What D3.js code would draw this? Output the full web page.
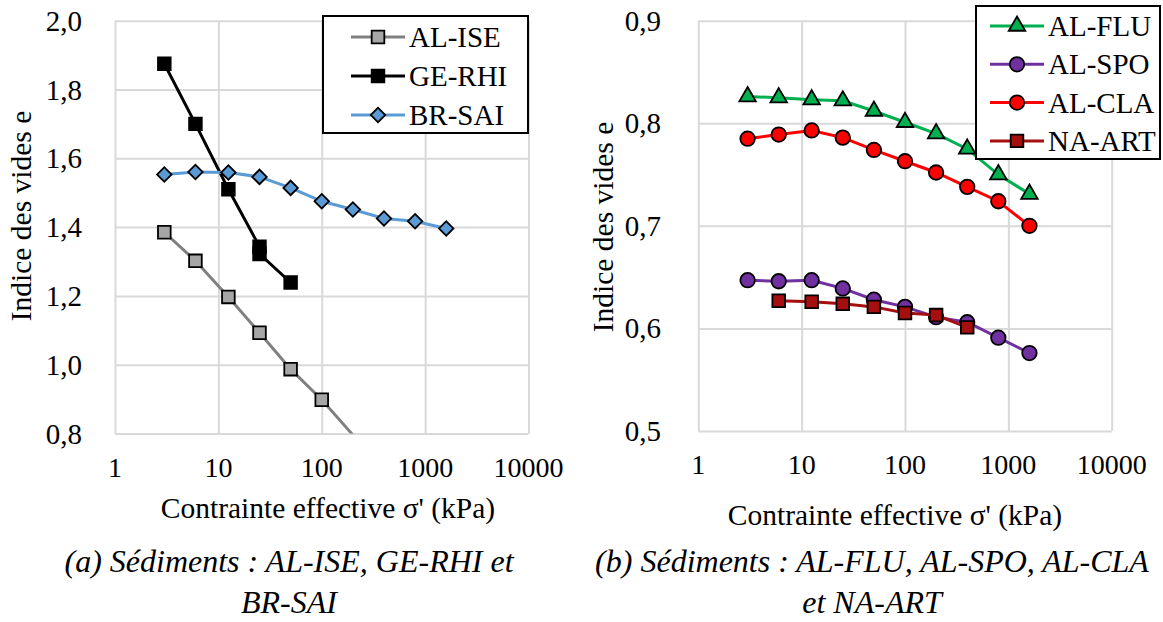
<!DOCTYPE html>
<html>
<head>
<meta charset="utf-8">
<script src="https://cdn.jsdelivr.net/npm/d3@7/dist/d3.min.js"></script>
<style>
    body { margin: 0; background: #ffffff; }
    .grid line { stroke: #d9d9d9; stroke-width: 2; }
    .grid path { display: none; }
</style>
</head>
<body>
<div id="chart"></div>
<script>
"use strict";

// pressions appliquées (kPa)
var pressures = [3, 6, 12.5, 25, 50, 100, 200, 400, 800, 1600];
var xTicks = [1, 10, 100, 1000, 10000];

// (a) sédiments AL-ISE, GE-RHI, BR-SAI
var alIseX = [3, 6, 12.5, 25, 50, 100, 200];
var alIseY = [1.385, 1.302, 1.197, 1.093, 0.987, 0.898, 0.796];
var geRhiX = [3, 6, 12.5, 25, 25, 50];
var geRhiY = [1.875, 1.700, 1.510, 1.343, 1.322, 1.239];
var brSaiY = [1.553, 1.560, 1.559, 1.546, 1.514, 1.475, 1.451, 1.425, 1.417, 1.396];
var leftYTicks = [0.8, 1.0, 1.2, 1.4, 1.6, 1.8, 2.0];

// (b) sédiments AL-FLU, AL-SPO, AL-CLA, NA-ART
var alFluY = [0.826, 0.825, 0.823, 0.822, 0.812, 0.801, 0.790, 0.775, 0.750, 0.731];
var alSpoY = [0.647, 0.646, 0.647, 0.639, 0.628, 0.621, 0.611, 0.606, 0.591, 0.576];
var alClaY = [0.785, 0.789, 0.793, 0.786, 0.774, 0.763, 0.752, 0.738, 0.724, 0.700];
var naArtX = [6, 12.5, 25, 50, 100, 200, 400];
var naArtY = [0.627, 0.626, 0.624, 0.621, 0.615, 0.613, 0.601];
var rightYTicks = [0.5, 0.6, 0.7, 0.8, 0.9];

var FONT = "Liberation Serif";

function zip(xs, ys) {
    return xs.map(function(x, i) { return { x: x, y: ys[i] }; });
}

var svg = d3.select("#chart")
    .append("svg")
    .attr("width", 1163)
    .attr("height", 622);

var commaFormat = function(d) { return d3.format(".1f")(d).replace(".", ","); };

function markerPath(type) {
    if (type === "square") return d3.symbol().type(d3.symbolSquare).size(160)();
    if (type === "diamond") return d3.symbol().type(d3.symbolSquare).size(105)();
    if (type === "triangle") return d3.symbol().type(d3.symbolTriangle).size(118)();
    return d3.symbol().type(d3.symbolCircle).size(165)();
}

function drawMarker(g, type, fill, x, y) {
    g.append("path")
        .attr("d", markerPath(type))
        .attr("transform", "translate(" + x + "," + y + ")" + (type === "diamond" ? " rotate(45)" : ""))
        .attr("fill", fill)
        .attr("stroke", "#000000")
        .attr("stroke-width", 1.8);
}

function addText(g, size) {
    return g.append("text")
        .attr("font-family", FONT)
        .attr("font-size", size + "px")
        .attr("fill", "#000000");
}

function drawPanel(cfg) {
    var x = d3.scaleLog().domain([1, 10000]).range([cfg.left, cfg.right]);
    var y = d3.scaleLinear().domain(cfg.yDomain).range([cfg.bottom, cfg.top]);
    var g = svg.append("g").attr("id", cfg.id);

    // grille
    g.append("g")
        .attr("class", "grid")
        .attr("transform", "translate(0," + cfg.bottom + ")")
        .call(d3.axisBottom(x).tickValues(xTicks).tickSize(cfg.top - cfg.bottom).tickFormat(""));
    g.append("g")
        .attr("class", "grid")
        .attr("transform", "translate(" + cfg.left + ",0)")
        .call(d3.axisLeft(y).tickValues(cfg.yTicks).tickSize(cfg.left - cfg.right).tickFormat(""));

    // étiquettes des axes
    cfg.yTicks.forEach(function(d) {
        addText(g, 29)
            .attr("x", cfg.yLabelX)
            .attr("y", y(d) + 10)
            .attr("text-anchor", "end")
            .text(commaFormat(d));
    });

    xTicks.forEach(function(d) {
        addText(g, 28)
            .attr("x", x(d))
            .attr("y", cfg.xLabelY)
            .attr("text-anchor", "middle")
            .text(d);
    });

    addText(g, 29.5)
        .attr("transform", "translate(" + cfg.yTitleX + "," + cfg.yTitleY + ") rotate(-90)")
        .attr("text-anchor", "middle")
        .text("Indice des vides e");

    addText(g, 29.5)
        .attr("x", cfg.xTitleX)
        .attr("y", cfg.xTitleY)
        .attr("text-anchor", "middle")
        .text("Contrainte effective σ' (kPa)");

    // séries
    var clipId = cfg.id + "_clip";
    svg.append("clipPath")
        .attr("id", clipId)
        .append("rect")
        .attr("x", cfg.left)
        .attr("y", cfg.top)
        .attr("width", cfg.right - cfg.left)
        .attr("height", cfg.bottom - cfg.top);

    var line = d3.line()
        .x(function(d) { return x(d.x); })
        .y(function(d) { return y(d.y); });

    cfg.series.forEach(function(s) {
        var sg = g.append("g");
        sg.append("path")
            .datum(s.data)
            .attr("clip-path", "url(#" + clipId + ")")
            .attr("fill", "none")
            .attr("stroke", s.color)
            .attr("stroke-width", 3)
            .attr("d", line);
        s.data.forEach(function(d) {
            if (d.y < cfg.yDomain[0] || d.y > cfg.yDomain[1]) return;
            drawMarker(sg, s.marker, s.fill, x(d.x), y(d.y));
        });
    });

    // légende
    var lg = g.append("g");
    lg.append("rect")
        .attr("x", cfg.legend.x)
        .attr("y", cfg.legend.y)
        .attr("width", cfg.legend.w)
        .attr("height", cfg.legend.h)
        .attr("fill", "#ffffff")
        .attr("stroke", "#000000")
        .attr("stroke-width", 2);

    cfg.series.forEach(function(s, i) {
        var ly = cfg.legend.firstY + i * cfg.legend.step;
        lg.append("line")
            .attr("x1", cfg.legend.lineX1)
            .attr("x2", cfg.legend.lineX2)
            .attr("y1", ly)
            .attr("y2", ly)
            .attr("stroke", s.color)
            .attr("stroke-width", 3);
        drawMarker(lg, s.marker, s.fill, (cfg.legend.lineX1 + cfg.legend.lineX2) / 2, ly);
        addText(lg, 29)
            .attr("x", cfg.legend.textX)
            .attr("y", ly + 10)
            .text(s.name);
    });

    // légende de la figure
    cfg.caption.forEach(function(c, i) {
        addText(g, 32)
            .attr("x", cfg.captionX)
            .attr("y", cfg.captionY + i * 41)
            .attr("text-anchor", "middle")
            .attr("font-style", "italic")
            .text(c);
    });
}

drawPanel({
    id: "panel_a",
    left: 115, right: 528.5, top: 20.7, bottom: 433.5,
    yDomain: [0.8, 2.0],
    yTicks: leftYTicks,
    yLabelX: 82, xLabelY: 477,
    yTitleX: 31, yTitleY: 216,
    xTitleX: 328, xTitleY: 518,
    series: [
        { name: "AL-ISE", data: zip(alIseX, alIseY), color: "#808080", fill: "#a6a6a6", marker: "square" },
        { name: "GE-RHI", data: zip(geRhiX, geRhiY), color: "#000000", fill: "#000000", marker: "square" },
        { name: "BR-SAI", data: zip(pressures, brSaiY), color: "#5b9bd5", fill: "#5b9bd5", marker: "diamond" }
    ],
    legend: { x: 323, y: 16, w: 205, h: 117, firstY: 37, step: 39, lineX1: 351, lineX2: 405, textX: 409 },
    caption: ["(a) Sédiments : AL-ISE, GE-RHI et", "BR-SAI"],
    captionX: 289, captionY: 572
});

drawPanel({
    id: "panel_b",
    left: 698.3, right: 1111.7, top: 20.7, bottom: 431,
    yDomain: [0.5, 0.9],
    yTicks: rightYTicks,
    yLabelX: 661, xLabelY: 474,
    yTitleX: 613, yTitleY: 227,
    xTitleX: 895, xTitleY: 525,
    series: [
        { name: "AL-FLU", data: zip(pressures, alFluY), color: "#00b050", fill: "#00b050", marker: "triangle" },
        { name: "AL-SPO", data: zip(pressures, alSpoY), color: "#7030a0", fill: "#7030a0", marker: "circle" },
        { name: "AL-CLA", data: zip(pressures, alClaY), color: "#ff0000", fill: "#ff0000", marker: "circle" },
        { name: "NA-ART", data: zip(naArtX, naArtY), color: "#a50f0f", fill: "#a50f0f", marker: "square" }
    ],
    legend: { x: 976, y: 6, w: 184, h: 153, firstY: 26, step: 38.3, lineX1: 990, lineX2: 1044, textX: 1048 },
    caption: ["(b) Sédiments : AL-FLU, AL-SPO, AL-CLA", "et NA-ART"],
    captionX: 872, captionY: 572
});
</script>
</body>
</html>
